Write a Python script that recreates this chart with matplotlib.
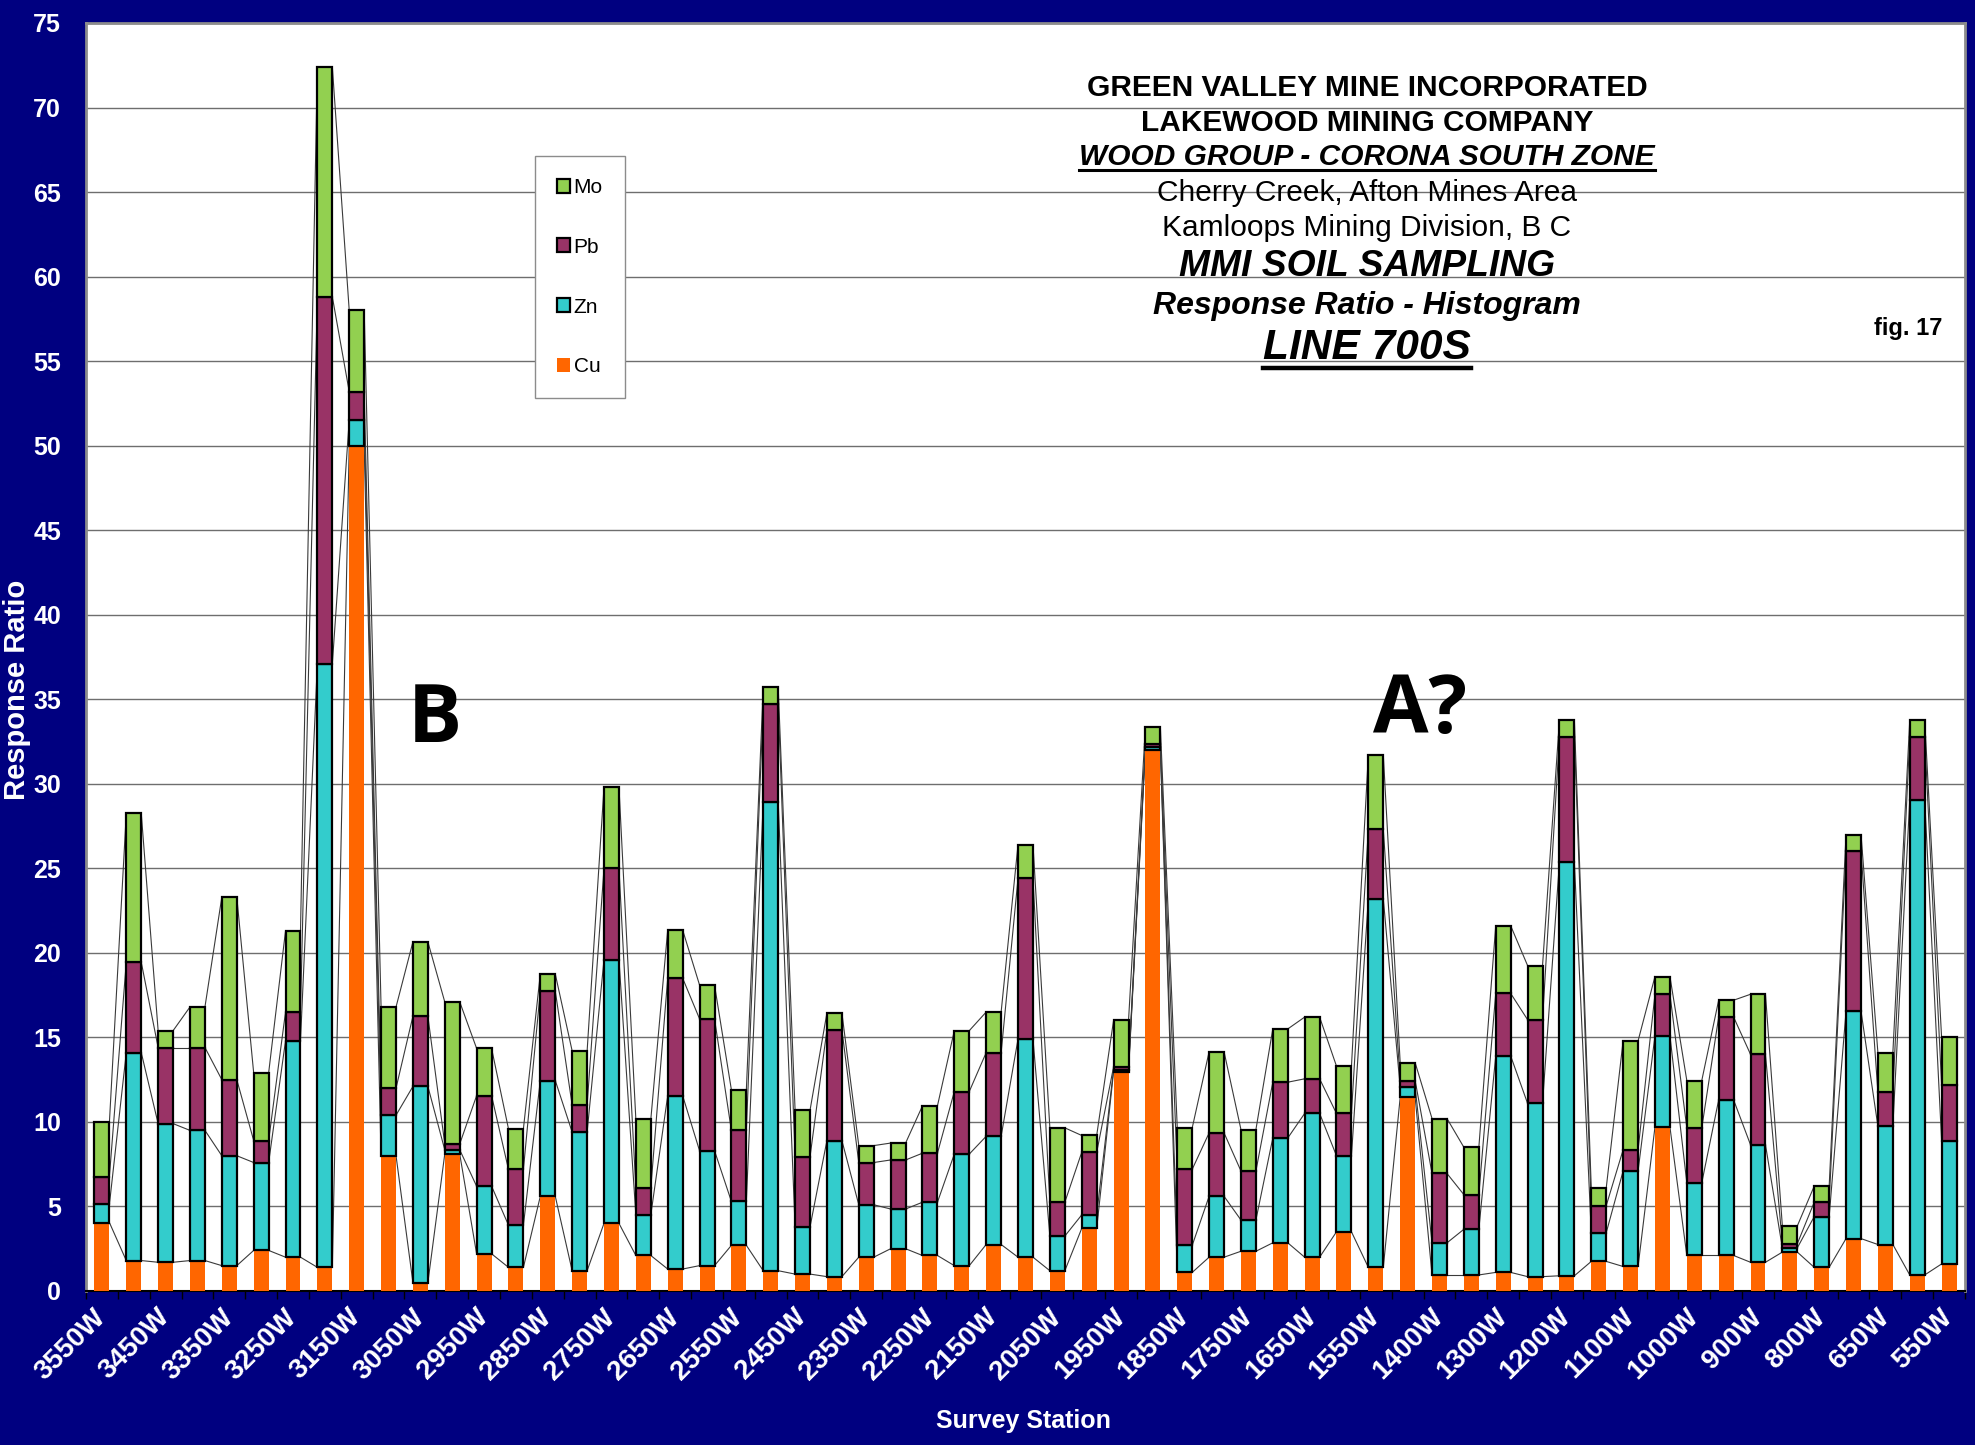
import matplotlib
matplotlib.use("Agg")
import matplotlib.pyplot as plt
from matplotlib.patches import Patch
from matplotlib.lines import Line2D
import numpy as np

plt.rcParams['font.family'] = ['Liberation Sans', 'DejaVu Sans']

# Survey stations along Line 700S (west to east)
stations = ["3550W", "3500W", "3450W", "3400W", "3350W", "3300W", "3250W", "3200W",
            "3150W", "3100W", "3050W", "3000W", "2950W", "2900W", "2850W", "2800W",
            "2750W", "2700W", "2650W", "2600W", "2550W", "2500W", "2450W", "2400W",
            "2350W", "2300W", "2250W", "2200W", "2150W", "2100W", "2050W", "2000W",
            "1950W", "1900W", "1850W", "1800W", "1750W", "1700W", "1650W", "1600W",
            "1550W", "1450W", "1400W", "1350W", "1300W", "1250W", "1200W", "1150W",
            "1100W", "1050W", "1000W", "950W", "900W", "850W", "800W", "700W",
            "650W", "600W", "550W"]

# MMI response ratios per element
cu = [4.05, 1.8, 1.7, 1.8, 1.5, 2.4, 2.0, 1.4, 50.0, 8.0,
      0.5, 8.1, 2.2, 1.4, 5.6, 1.2, 4.0, 2.1, 1.3, 1.5,
      2.7, 1.2, 1.0, 0.85, 2.0, 2.5, 2.1, 1.5, 2.75, 2.0,
      1.2, 3.7, 12.95, 32.0, 1.1, 2.0, 2.35, 2.85, 2.0, 3.5,
      1.4, 11.45, 0.95, 0.95, 1.1, 0.85, 0.9, 1.75, 1.45, 9.7,
      2.1, 2.1, 1.7, 2.3, 1.4, 3.1, 2.75, 0.95, 1.6]
zn = [1.07, 12.3, 8.2, 7.7, 6.5, 5.2, 12.8, 35.7, 1.5, 2.4,
      11.6, 0.25, 4.0, 2.5, 6.85, 8.2, 15.6, 2.4, 10.25, 6.8,
      2.6, 27.75, 2.8, 8.05, 3.1, 2.35, 3.15, 6.6, 6.4, 12.9,
      2.05, 0.8, 0.15, 0.15, 1.6, 3.6, 1.85, 6.2, 8.5, 4.5,
      21.8, 0.6, 1.9, 2.7, 12.8, 10.25, 24.45, 1.7, 5.65, 5.4,
      4.3, 9.2, 6.95, 0.25, 3.0, 13.45, 7.0, 28.1, 7.3]
pb = [1.65, 5.35, 4.5, 4.9, 4.5, 1.3, 1.7, 21.7, 1.7, 1.6,
      4.15, 0.35, 5.35, 3.3, 5.3, 1.6, 5.4, 1.6, 6.95, 7.8,
      4.2, 5.75, 4.15, 6.55, 2.5, 2.9, 2.9, 3.7, 4.95, 9.5,
      2.0, 3.7, 0.15, 0.2, 4.5, 3.75, 2.9, 3.3, 2.05, 2.5,
      4.1, 0.4, 4.1, 2.05, 3.7, 4.95, 7.4, 1.6, 1.25, 2.45,
      3.25, 4.9, 5.35, 0.25, 0.85, 9.45, 2.0, 3.7, 3.3]
mo = [3.21, 8.8, 1.0, 2.4, 10.8, 4.0, 4.8, 13.6, 4.8, 4.8,
      4.4, 8.4, 2.8, 2.4, 1.0, 3.2, 4.8, 4.05, 2.85, 2.0,
      2.4, 1.0, 2.75, 1.0, 1.0, 1.0, 2.8, 3.6, 2.4, 2.0,
      4.4, 1.0, 2.75, 1.0, 2.45, 4.8, 2.45, 3.15, 3.65, 2.8,
      4.4, 1.05, 3.25, 2.8, 4.0, 3.2, 1.0, 1.05, 6.45, 1.05,
      2.8, 1.0, 3.55, 1.05, 0.95, 1.0, 2.35, 1.0, 2.8]

NAVY = "#000080"
W_PX, H_PX = 1975, 1445


def fx(px):
    return px / W_PX


def fy(px):
    return 1 - px / H_PX


fig = plt.figure(figsize=(W_PX / 100, H_PX / 100), dpi=100, facecolor=NAVY)
ax = fig.add_axes([fx(86), fy(1291), fx(1965) - fx(86), fy(23) - fy(1291)])
ax.set_facecolor("white")

n = len(stations)
x = np.arange(n)
bw = 0.47

layers = [
    (cu, "Cu", "#FF6600", False),
    (zn, "Zn", "#33CCCC", True),
    (pb, "Pb", "#993366", True),
    (mo, "Mo", "#92D050", True),
]

bottom = np.zeros(n)
for vals, name, color, edged in layers:
    vals = np.asarray(vals, dtype=float)
    ax.bar(x, vals, bw, bottom=bottom, color=color,
           edgecolor="black" if edged else color,
           linewidth=1.6 if edged else 0, zorder=3)
    top = bottom + vals
    # series lines joining the top of this layer from bar to bar
    for i in range(n - 1):
        ax.plot([x[i] + bw / 2, x[i + 1] - bw / 2], [top[i], top[i + 1]],
                color="#3a3a3a", lw=0.8, zorder=2)
    bottom = top

ax.set_xlim(-0.5, n - 0.5)
ax.set_ylim(0, 75)
ax.set_yticks(np.arange(0, 80, 5))
ax.yaxis.grid(True, color="#6e6e6e", lw=1.0, zorder=0)
ax.set_axisbelow(True)

ax.set_xticks(x[::2])
ax.set_xticklabels(stations[::2], rotation=45, ha="right", va="center",
                   rotation_mode="anchor", color="white", fontsize=20,
                   fontweight="bold")
ax.set_xticks(np.arange(-0.5, n, 1), minor=True)
ax.tick_params(axis="x", which="major", length=0, pad=16)
ax.tick_params(axis="x", which="minor", length=6, color="black", width=1)
ax.tick_params(axis="y", length=0, pad=18, labelcolor="white", labelsize=18)
for lab in ax.get_yticklabels():
    lab.set_fontweight("bold")

for side in ("left", "right", "top"):
    ax.spines[side].set_color("#8c8c8c")
    ax.spines[side].set_linewidth(2)
ax.spines["bottom"].set_color("black")
ax.spines["bottom"].set_linewidth(1.5)

fig.text(fx(17), fy(690), "Response Ratio", rotation=90, ha="center",
         va="center", color="white", fontsize=21, fontweight="bold")
fig.text(fx(1023), fy(1421), "Survey Station", ha="center", va="center",
         color="white", fontsize=18, fontweight="bold")

# zone markers
ax.text(10.46, 32.5, "B", ha="center", va="baseline", fontsize=58,
        fontweight="bold", family=["Open Sans", "DejaVu Sans"], zorder=5)
ax.text(41.4, 33.0, "A?", ha="center", va="baseline", fontsize=58,
        fontweight="bold", family=["Open Sans", "DejaVu Sans"], zorder=5)

# title block
cx = 1367
title_lines = [
    ("GREEN VALLEY MINE INCORPORATED", 96, 21.5, "bold", "normal", 0),
    ("LAKEWOOD MINING COMPANY", 131, 21.5, "bold", "normal", 0),
    ("WOOD GROUP - CORONA SOUTH ZONE", 165, 21.5, "bold", "italic", 170),
    ("Cherry Creek, Afton Mines Area", 201, 21.5, "normal", "normal", 0),
    ("Kamloops Mining Division, B C", 236, 21.5, "normal", "normal", 0),
    ("MMI SOIL SAMPLING", 276, 26.8, "bold", "italic", 0),
    ("Response Ratio - Histogram", 314, 23, "bold", "italic", 0),
    ("LINE 700S", 359, 30.6, "bold", "italic", 368),
]
underlined = []
for txt, base, size, weight, style, uline in title_lines:
    t = fig.text(fx(cx), fy(base), txt, ha="center", va="baseline",
                 fontsize=size, fontweight=weight, fontstyle=style,
                 color="black", zorder=6)
    if uline:
        underlined.append((t, uline, 2.2 if size < 25 else 3.2))

fig.text(fx(1908), fy(335), "fig. 17", ha="center", va="baseline",
         fontsize=17, fontweight="bold", color="black")

# legend
handles = [
    Patch(facecolor="#92D050", edgecolor="black", linewidth=1.6, label="Mo"),
    Patch(facecolor="#993366", edgecolor="black", linewidth=1.6, label="Pb"),
    Patch(facecolor="#33CCCC", edgecolor="black", linewidth=1.6, label="Zn"),
    Patch(facecolor="#FF6600", edgecolor="#FF6600", linewidth=0, label="Cu"),
]
leg = ax.legend(handles=handles, loc="upper left",
                bbox_to_anchor=(fx(535), fy(156)), bbox_transform=fig.transFigure,
                borderaxespad=0, fontsize=15, labelspacing=1.96,
                handlelength=0.65, handleheight=0.65, handletextpad=0.15,
                borderpad=1.05, fancybox=False, framealpha=1, edgecolor="#8c8c8c")
leg.get_frame().set_linewidth(1.0)

fig.canvas.draw()
renderer = fig.canvas.get_renderer()
for t, uy, lw in underlined:
    bb = t.get_window_extent(renderer)
    fig.add_artist(Line2D([bb.x0 / W_PX, bb.x1 / W_PX], [fy(uy), fy(uy)],
                          transform=fig.transFigure, color="black", lw=lw))

fig.savefig("out.png", dpi=100, facecolor=NAVY)
